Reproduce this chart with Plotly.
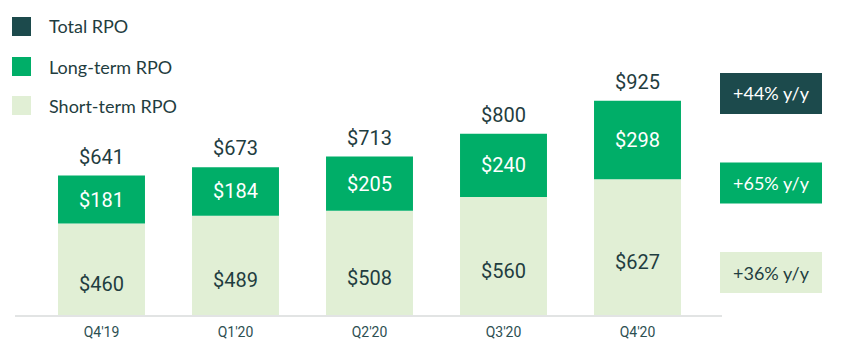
import plotly.graph_objects as go

quarters = ["Q4'19", "Q1'20", "Q2'20", "Q3'20", "Q4'20"]
short_term = [460, 489, 508, 560, 627]
long_term = [181, 184, 205, 240, 298]
total = [641, 673, 713, 800, 925]
legend_names = ["Total RPO", "Long-term RPO", "Short-term RPO"]
growth_labels = ["+44% y/y", "+65% y/y", "+36% y/y"]

C_TOTAL = "#1c4a4c"
C_LONG = "#00ae68"
C_SHORT = "#e1efd5"
C_TEXT = "#1f3d40"
FONT = "Roboto"

fig = go.Figure()
fig.add_trace(go.Bar(
    x=quarters, y=short_term, base=0, marker=dict(color=C_SHORT, line=dict(width=0)),
    text=[f"${v}" for v in short_term], textposition="inside", insidetextanchor="middle",
    textfont=dict(family=FONT, size=20, color=C_TEXT), cliponaxis=True, showlegend=False,
))
fig.add_trace(go.Bar(
    x=quarters, y=long_term, base=short_term, marker=dict(color=C_LONG, line=dict(width=0)),
    text=[f"${v}" for v in long_term], textposition="inside", insidetextanchor="middle",
    textfont=dict(family=FONT, size=20, color="white"), showlegend=False,
))

for q, t in zip(quarters, total):
    fig.add_annotation(x=q, y=t, text=f"${t}", showarrow=False, yanchor="bottom",
                       yshift=5, font=dict(family=FONT, size=20, color=C_TEXT))

# page offset of the plot div (default body margin)
OX, OY = 8, 8
W, H = 837, 347
# target pixel positions in the screenshot
L_px, R_px, T_px, B_px = 15, 722, 20, 315
L, T = L_px - OX, T_px - OY
R = W - (R_px - OX)
B = H - (B_px - OY)
pw, ph = W - L - R, H - T - B

def px_x(px):
    return (px - OX - L) / pw

def px_y(py):
    return 1 - (py - OY - T) / ph

# manual legend
legend_colors = [C_TOTAL, C_LONG, C_SHORT]
legend_cy = [26.5, 66.5, 105.5]
for name, col, cy in zip(legend_names, legend_colors, legend_cy):
    fig.add_shape(type="rect", xref="paper", yref="paper",
                  x0=px_x(12), x1=px_x(31), y0=px_y(cy + 9.5), y1=px_y(cy - 9.5),
                  fillcolor=col, line=dict(width=0))
    fig.add_annotation(xref="paper", yref="paper", x=px_x(47), y=px_y(cy),
                       xanchor="left", yanchor="middle", text=name, showarrow=False,
                       font=dict(family="Lato", size=18, color=C_TEXT))

# growth boxes
box_cy = [93.5, 183, 272.5]
box_bg = [C_TOTAL, C_LONG, C_SHORT]
box_fc = ["white", "white", C_TEXT]
for lab, cy, bg, fc in zip(growth_labels, box_cy, box_bg, box_fc):
    fig.add_shape(type="rect", xref="paper", yref="paper",
                  x0=px_x(720), x1=px_x(822), y0=px_y(cy + 20.5), y1=px_y(cy - 20.5),
                  fillcolor=bg, line=dict(width=0))
    fig.add_annotation(xref="paper", yref="paper", x=px_x(771), y=px_y(cy),
                       xanchor="center", yanchor="middle", text=lab, showarrow=False,
                       font=dict(family="Lato", size=18, color=fc))

slot = 134.0
xmin = -(101.5 - L_px) / slot
xmax = xmin + pw / slot
scale = 0.264
ymin = 113
ymax = ymin + ph / scale

fig.update_layout(
    width=W, height=H, margin=dict(l=L, r=R, t=T, b=B, pad=0),
    barmode="overlay", bargap=0.351,
    plot_bgcolor="white", paper_bgcolor="white",
    xaxis=dict(type="category", range=[xmin, xmax], showgrid=False, zeroline=False,
               showline=True, linecolor="#e2e4e4", linewidth=2, ticks="",
               ticklabelstandoff=3,
               tickfont=dict(family=FONT, size=14, color="#2d4f52")),
    yaxis=dict(range=[ymin, ymax], visible=False, showgrid=False, zeroline=False),
)

fig.write_html("out.html")
